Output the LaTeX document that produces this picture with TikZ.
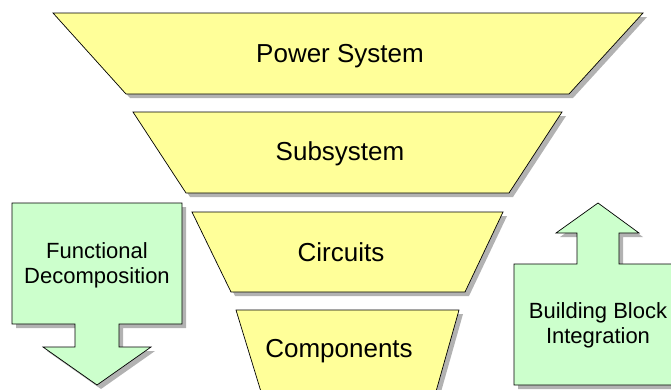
\documentclass[tikz,border=0pt]{standalone}
\usepackage{fontspec}
\setmainfont{Liberation Sans}
\definecolor{funnelyellow}{HTML}{FFFF99}
\definecolor{arrowgreen}{HTML}{CCFFCC}
\definecolor{shadowgray}{HTML}{B2B2B2}
\begin{document}
\begin{tikzpicture}[x=1pt,y=-1pt,
  shadowshape/.style={fill=shadowgray,draw=none,shift={(4,4)}},
  funnel/.style={fill=funnelyellow,draw=black,line width=0.7pt,line join=miter},
  blockarrow/.style={fill=arrowgreen,draw=black,line width=0.7pt,line join=miter},
  mainlabel/.style={font=\fontsize{26}{30}\selectfont,text=black,inner sep=0pt},
  sidelabel/.style={font=\fontsize{22}{25}\selectfont,align=center,text=black,inner sep=0pt}]
\useasboundingbox (0,0) rectangle (671,389);
\begin{scope}
\clip (0,0) rectangle (671,389);
% shadows
\fill[shadowshape] (53,13) -- (643,13) -- (569,94) -- (126,94) -- cycle;
\fill[shadowshape] (133,112) -- (562,112) -- (509,193) -- (186,193) -- cycle;
\fill[shadowshape] (192,212) -- (503,212) -- (465,292) -- (231,292) -- cycle;
\fill[shadowshape] (236,310) -- (459,310) -- (435,395) -- (262,395) -- cycle;
\fill[shadowshape] (12,203) -- (182,203) -- (182,324) -- (119,324) -- (119,347) -- (151,347) -- (97,385) -- (43,347) -- (75,347) -- (75,324) -- (12,324) -- cycle;
\fill[shadowshape] (598,203) -- (639,233) -- (619,233) -- (619,264) -- (682,264) -- (682,385) -- (514,385) -- (514,264) -- (577,264) -- (577,233) -- (556,233) -- cycle;
% funnel layers
\path[funnel] (53,13) -- (643,13) -- (569,94) -- (126,94) -- cycle;
\path[funnel] (133,112) -- (562,112) -- (509,193) -- (186,193) -- cycle;
\path[funnel] (192,212) -- (503,212) -- (465,292) -- (231,292) -- cycle;
\path[funnel] (236,310) -- (459,310) -- (435,395) -- (262,395) -- cycle;
% block arrows
\path[blockarrow] (12,203) -- (182,203) -- (182,324) -- (119,324) -- (119,347) -- (151,347) -- (97,385) -- (43,347) -- (75,347) -- (75,324) -- (12,324) -- cycle;
\path[blockarrow] (598,203) -- (639,233) -- (619,233) -- (619,264) -- (682,264) -- (682,385) -- (514,385) -- (514,264) -- (577,264) -- (577,233) -- (556,233) -- cycle;
\end{scope}
% labels
\node[mainlabel] (power) at (340,56) {Power System};
\node[mainlabel] (subsys) at (340,154) {Subsystem};
\node[mainlabel] (circ) at (341,252) {Circuits};
\node[mainlabel] (comp) at (339,351) {Components};
\node[sidelabel] (func) at (97,265) {Functional\\Decomposition};
\node[sidelabel] (build) at (598,325) {Building Block\\Integration};
\end{tikzpicture}
\end{document}
